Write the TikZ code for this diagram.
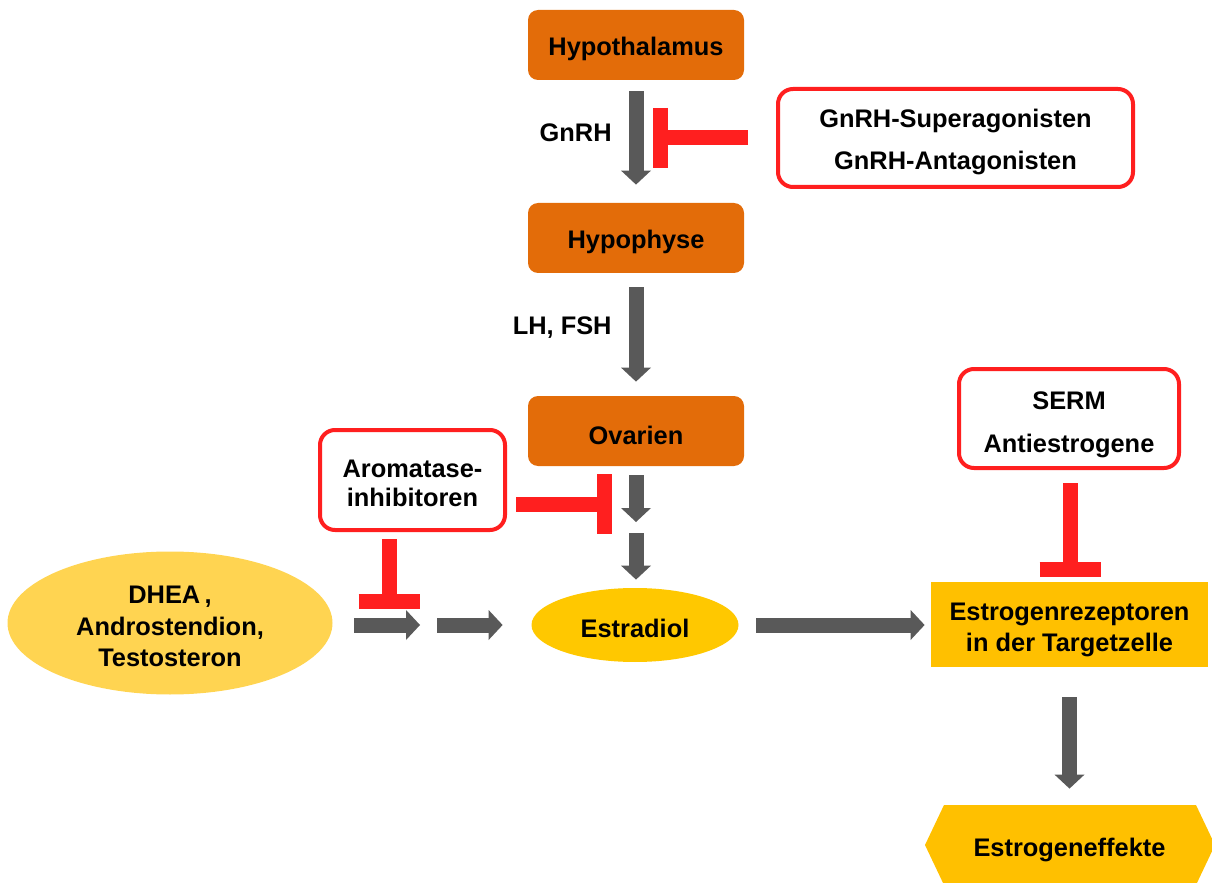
\documentclass[tikz,border=0pt]{standalone}
\usepackage{fontspec}
\setmainfont{Liberation Sans}
\usetikzlibrary{arrows.meta,shapes.geometric,calc}
\definecolor{org}{HTML}{E36C09}
\definecolor{gold}{HTML}{FFC000}
\definecolor{estr}{HTML}{FFC800}
\definecolor{lgold}{HTML}{FFD451}
\definecolor{agray}{HTML}{595959}
\definecolor{ired}{HTML}{FF1F1F}
\begin{document}
\begin{tikzpicture}[x=0.5pt,y=-0.5pt,
  every node/.style={font=\fontsize{12.7}{15}\selectfont\bfseries, text=black, inner sep=0pt},
  orgbox/.style={fill=org, rounded corners=5pt, minimum width=108pt, minimum height=35pt},
  redbox/.style={draw=ired, line width=2pt, rounded corners=7.5pt, fill=white},
  lbl/.style={align=center},
  flow/.style={draw=agray, line width=7.5pt, -{Triangle[width=15pt,length=7pt,line width=0pt]}},
  inh/.style={draw=ired, line width=7.5pt},
  ]
\useasboundingbox (0,0) rectangle (1212,883);

% main nodes
\node[orgbox, label={[lbl, yshift=-2pt]center:{Hypothalamus}}] (hypo) at (636,45) {};
\node[orgbox, label={[lbl, yshift=-2pt]center:{Hypophyse}}] (hyph) at (636,238) {};
\node[orgbox, label={[lbl, yshift=-2pt]center:{Ovarien}}] (ovar) at (636,431) {};

\node[redbox, minimum width=177.5pt, minimum height=49pt,
  label={[lbl, yshift=-2pt, font=\fontsize{12.7}{21}\selectfont\bfseries]center:{GnRH-Superagonisten\\GnRH-Antagonisten}}]
  (gnrhbox) at (955.5,138) {};
\node[redbox, minimum width=92.5pt, minimum height=50pt,
  label={[lbl, yshift=-1.5pt, font=\fontsize{12.7}{14.5}\selectfont\bfseries]center:{Aromatase-\\inhibitoren}}]
  (arom) at (412.5,480) {};
\node[redbox, minimum width=110pt, minimum height=49.5pt,
  label={[lbl, yshift=-3pt, font=\fontsize{12.7}{21.5}\selectfont\bfseries]center:{SERM\\Antiestrogene}}]
  (serm) at (1069,418.5) {};

\node[ellipse, fill=lgold, minimum width=162.5pt, minimum height=71.5pt,
  label={[lbl, yshift=-1.75pt, font=\fontsize{12.7}{15.75}\selectfont\bfseries]center:{DHEA\,,\\Androstendion,\\Testosteron}}]
  (dhea) at (170,623) {};
\node[ellipse, fill=estr, minimum width=103.5pt, minimum height=37pt,
  label={[lbl, yshift=-1.5pt]center:{Estradiol}}] (estr) at (635,625) {};
\node[fill=gold, minimum width=138.5pt, minimum height=42.5pt,
  label={[lbl, yshift=-2.5pt, font=\fontsize{12.7}{15.5}\selectfont\bfseries]center:{Estrogenrezeptoren\\in der Targetzelle}}]
  (rez) at (1069.5,624.5) {};

% hexagon
\fill[gold] (925,845) -- (944,805) -- (1196,805) -- (1215,845) -- (1196,885) -- (944,885) -- cycle;
\node[minimum width=135pt, minimum height=40pt,
  label={[lbl, yshift=-2.5pt]center:{Estrogeneffekte}}] (eff) at (1069.5,845) {};

% labels
\node[anchor=east] (lgnrh) at (612,132.5) {GnRH};
\node[anchor=east] (llh) at (612,327.5) {LH, FSH};

% gray flow arrows
\draw[flow, shorten <=5.5pt, shorten >=9pt] (hypo.south) -- (hyph.north);
\draw[flow, shorten <=7pt, shorten >=7pt] (hyph.south) -- (ovar.north);
\coordinate (m1) at (636,527.5);
\draw[flow, shorten <=4.5pt, shorten >=2.75pt] (ovar.south) -- (m1);
\draw[flow, shorten <=2.75pt, shorten >=4pt] (m1) -- (estr.north -| m1);
\coordinate (m2) at (428.5,625);
\draw[flow, shorten <=10.75pt, shorten >=4.25pt] (dhea.east |- m2) -- (m2);
\draw[flow, shorten <=4.25pt, shorten >=14.25pt] (m2) -- (estr.west);
\draw[flow, shorten <=8.75pt, shorten >=3pt] (estr.east) -- (rez.west |- estr.east);
\draw[flow, shorten <=15pt, shorten >=8pt] (rez.south) -- (eff.north);

% inhibitions
\coordinate (tg) at (660.5,138);
\draw[inh, shorten <=14pt] (gnrhbox.west) -- (tg);
\draw[inh] ($(tg)+(0,-30)$) -- ($(tg)+(0,30)$);

\coordinate (ta) at (604.5,504);
\draw[inh, shorten <=4.5pt] (arom.east |- ta) -- (ta);
\draw[inh] ($(ta)+(0,-30)$) -- ($(ta)+(0,30)$);

\coordinate (tb) at (389,601.5);
\draw[inh, shorten <=3.5pt] (arom.south -| tb) -- (tb);
\draw[inh] ($(tb)+(-30.5,0)$) -- ($(tb)+(30.5,0)$);

\coordinate (ts) at (1070,569.5);
\draw[inh, shorten <=6.5pt] (serm.south -| ts) -- (ts);
\draw[inh] ($(ts)+(-30.5,0)$) -- ($(ts)+(30.5,0)$);
\end{tikzpicture}
\end{document}
